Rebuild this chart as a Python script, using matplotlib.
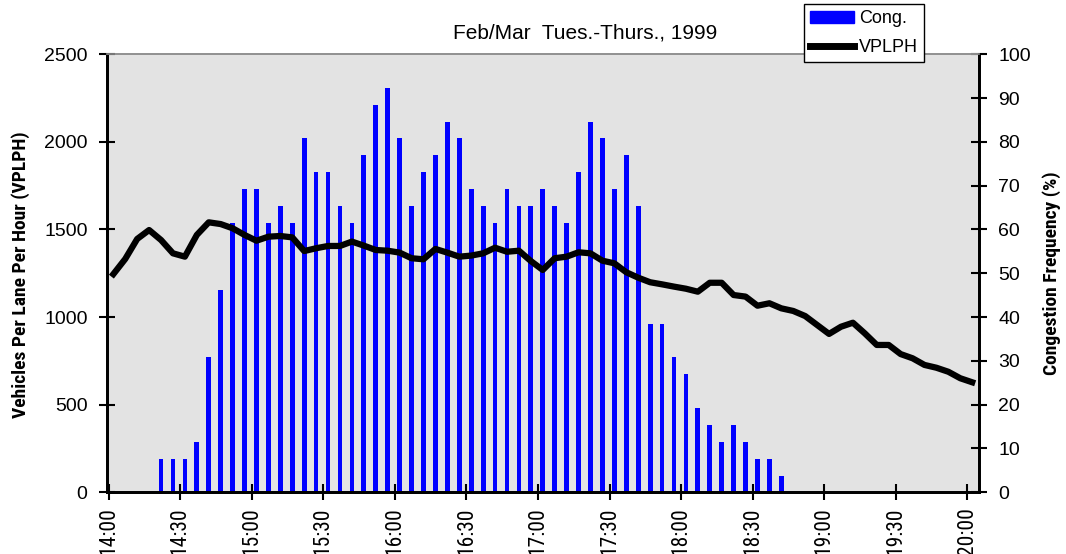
import matplotlib
matplotlib.use("Agg")
import matplotlib.pyplot as plt
import numpy as np
import pandas as pd
from matplotlib import font_manager
from matplotlib.patches import Patch
from matplotlib.lines import Line2D

# 5-minute slots, 14:00 -> 20:00
times = [t.strftime("%H:%M") for t in pd.date_range("14:00", "20:00", freq="5min")]

# congestion frequency (%) per slot
cong = [0, 0, 0, 0,
        7.7, 7.7, 7.7, 11.5, 30.8, 46.2, 61.5, 69.2, 69.2, 61.5,
        65.4, 61.5, 80.8, 73.1, 73.1, 65.4, 61.5, 76.9, 88.5, 92.3,
        80.8, 65.4, 73.1, 76.9, 84.6, 80.8, 69.2, 65.4, 61.5, 69.2,
        65.4, 65.4, 69.2, 65.4, 61.5, 73.1, 84.6, 80.8, 69.2, 76.9,
        65.4, 38.5, 38.5, 30.8, 26.9, 19.2, 15.4, 11.5, 15.4, 11.5,
        7.7, 7.7, 3.8,
        0, 0, 0, 0, 0, 0, 0, 0, 0, 0, 0, 0, 0, 0, 0, 0]

# vehicles per lane per hour
vplph = [1245, 1332, 1446, 1497, 1440, 1364, 1345, 1469, 1541, 1531,
         1507, 1469, 1436, 1459, 1463, 1455, 1377, 1393, 1406, 1406,
         1431, 1408, 1383, 1379, 1368, 1336, 1330, 1389, 1368, 1345,
         1351, 1364, 1396, 1373, 1379, 1320, 1269, 1336, 1345, 1370,
         1364, 1322, 1307, 1256, 1225, 1199, 1187, 1174, 1162, 1145,
         1196, 1196, 1126, 1117, 1065, 1079, 1050, 1035, 1006, 955,
         904, 945, 968, 907, 841, 841, 789, 765, 727, 711,
         688, 651, 628]

plt.rcParams["font.family"] = ["Liberation Sans", "DejaVu Sans"]


def condensed_font(bold):
    # look for any installed narrow / condensed face
    want = "bold" if bold else "normal"
    cands = []
    for f in font_manager.fontManager.ttflist:
        narrow_name = any(k in f.name for k in ("Narrow", "Condensed"))
        narrow_str = f.stretch in ("condensed", "semi-condensed", "extra-condensed", "ultra-condensed")
        if not (narrow_name or narrow_str) or f.style != "normal":
            continue
        w = f.weight if isinstance(f.weight, int) else (700 if "bold" in str(f.weight) else 400)
        is_bold = w >= 600
        if is_bold != bold:
            continue
        pref = 0 if "Liberation" in f.name else 1 if "Roboto" in f.name else 2
        cands.append((pref, f.fname))
    if cands:
        cands.sort()
        return font_manager.FontProperties(fname=cands[0][1])
    return font_manager.FontProperties(family="Liberation Sans", weight=want, stretch="condensed")


narrow_reg = condensed_font(False)
narrow_bold = condensed_font(True)

W, H = 1066, 554
fig = plt.figure(figsize=(W / 100, H / 100), dpi=100)
ax = fig.add_axes([107 / W, 1 - 492.3 / H, (979 - 107) / W, (492.3 - 54.3) / H])
ax2 = ax.twinx()

# line above the bars
ax.set_zorder(2)
ax2.set_zorder(1)
ax.patch.set_visible(False)
ax2.patch.set_visible(True)
ax2.set_facecolor("#e3e3e3")

x = np.arange(len(times))
ax2.bar(x + 0.4, cong, width=0.4, color="#0000ff")
ax.plot(x + 0.4, vplph, color="black", lw=4.5, solid_joinstyle="round")

ax.set_xlim(-0.13, 72.97)
ax.set_ylim(0, 2500)
ax2.set_ylim(0, 100)
ax.set_yticks(np.arange(0, 2501, 500))
ax2.set_yticks(np.arange(0, 101, 10))
ax.set_xticks(x[::6])
ax.set_xticklabels(times[::6], rotation=90)
tick_fp = narrow_reg.copy()
tick_fp.set_size(15.5)
for t in ax.get_xticklabels():
    t.set_fontproperties(tick_fp)

for a in (ax, ax2):
    a.spines["top"].set_color("#909090")
    a.spines["top"].set_linewidth(1.2)
    a.spines["left"].set_linewidth(2)
    a.spines["right"].set_linewidth(2)
    a.spines["bottom"].set_linewidth(2)
ax.tick_params(axis="y", direction="inout", length=12, width=1.5, labelsize=14, pad=8)
ax2.tick_params(axis="y", direction="inout", length=12, width=1.5, labelsize=14, pad=8)
ax.tick_params(axis="x", direction="inout", length=12, width=1.5, pad=5)

fig.text(585.5 / W, 1 - 33 / H, "Feb/Mar  Tues.-Thurs., 1999", ha="center", va="center", fontsize=15)
lab_fp = narrow_bold.copy()
lab_fp.set_size(14)
fig.text(21 / W, 1 - 275 / H, "Vehicles Per Lane Per Hour (VPLPH)", rotation=90,
         ha="center", va="center", fontproperties=lab_fp)
fig.text(1052 / W, 1 - 273 / H, "Congestion Frequency (%)", rotation=90,
         ha="center", va="center", fontproperties=lab_fp)

handles = [Patch(color="#0000ff"), Line2D([], [], color="black", lw=5)]
fig.legend(handles, ["Cong.", "VPLPH"], loc="upper left",
           bbox_to_anchor=(804 / W, 1 - 4 / H), frameon=True, fancybox=False,
           edgecolor="black", framealpha=1, fontsize=13, handlelength=2.4,
           borderpad=0.35, labelspacing=0.65, handletextpad=0.3, borderaxespad=0)

fig.savefig("out.png", dpi=100)
